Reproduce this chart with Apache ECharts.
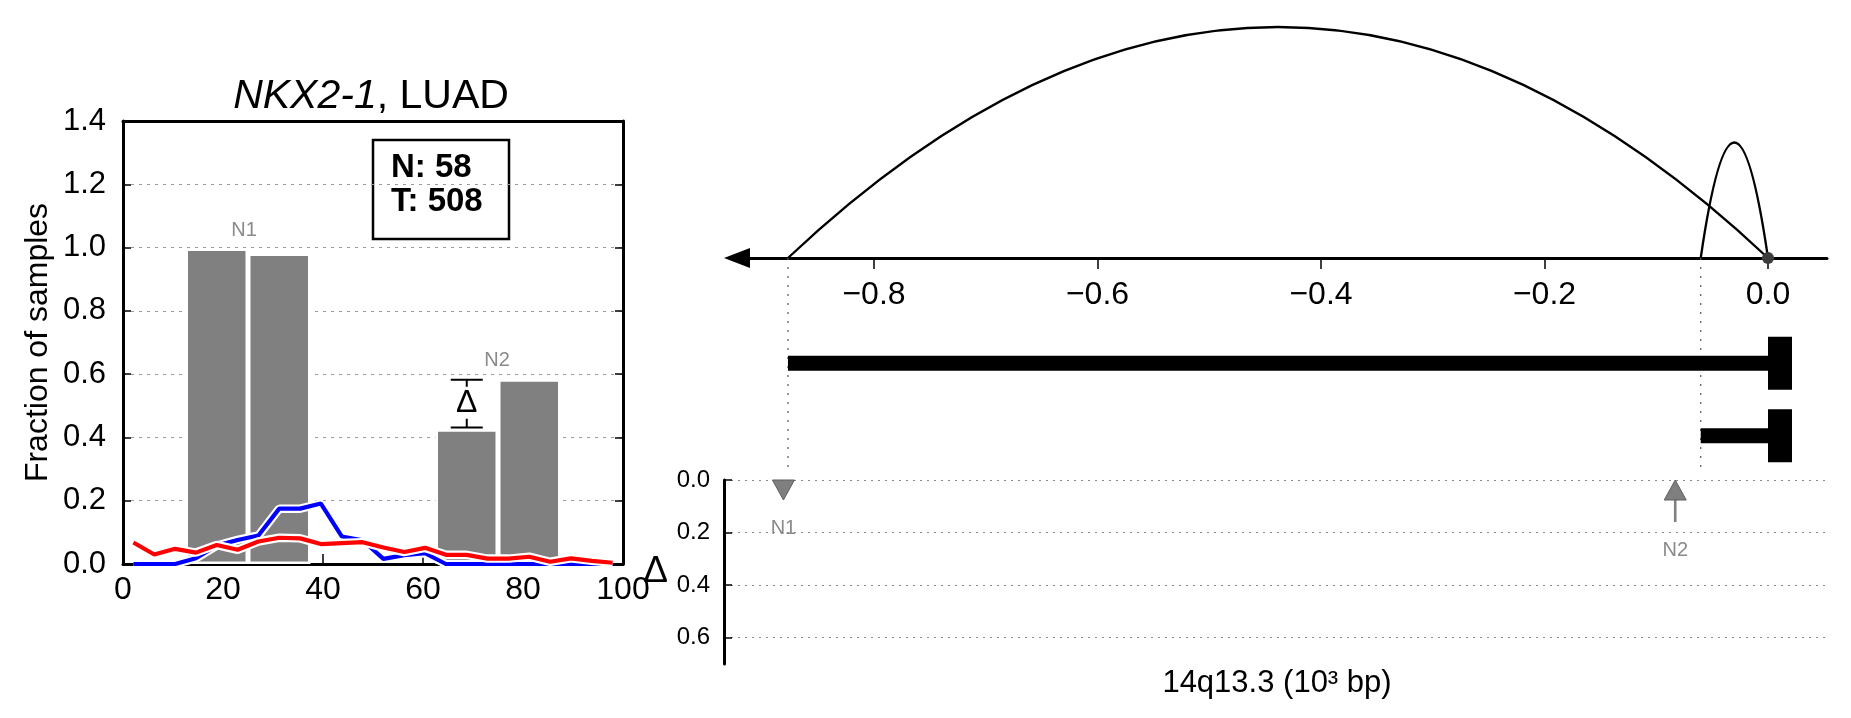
<!DOCTYPE html>
<html><head><meta charset="utf-8">
<script src="https://cdn.jsdelivr.net/npm/echarts@6/dist/echarts.min.js"></script>
<style>html,body{margin:0;padding:0;background:#fff}#c{width:1851px;height:718px}</style>
</head><body><div id="c"></div>
<script>
// ---------- Left panel data ----------
const binCenters = [2.08,6.25,10.42,14.58,18.75,22.92,27.08,31.25,35.42,39.58,43.75,47.92,52.08,56.25,60.42,64.58,68.75,72.92,77.08,81.25,85.42,89.58,93.75,97.92];
const normalFrac = [0,0,0,0.018,0.058,0.076,0.090,0.175,0.175,0.191,0.087,0.075,0.016,0.028,0.034,0,0,0,0,0,0,0,0,0];
const tumorFrac  = [0.068,0.030,0.048,0.036,0.060,0.045,0.071,0.083,0.081,0.063,0.066,0.069,0.052,0.038,0.051,0.029,0.029,0.017,0.017,0.023,0.007,0.018,0.010,0.004];
const barCenters = [18.75,31.25,68.75,81.25];
const barHeights = [0.997,0.981,0.426,0.584];
const peakLabels = ['N1','N2'];
const peakLabelX = [24.2,74.8];
const peakLabelY = [1.053,0.642];
const deltaX = 68.75, deltaLow = 0.431, deltaHigh = 0.582;
const countN = 58, countT = 508;

// ---------- Right panel data ----------
const posTicks = [-0.8,-0.6,-0.4,-0.2,0.0];
const arcStart = [-0.877,-0.0602];
const arcEnd = [0,0];
const arcHeight = [1.0,0.5];
const segStart = [-0.877,-0.0602];
const segEnd = [0,0];
const markerNames = ['N1','N2'];
const markerX = [-0.881,-0.083];
const markerDelta = [0,0.16];
const markerDir = [-1,1];
const markerLabelDelta = [0.183,0.27];
const deltaTicks = [0,0.2,0.4,0.6];

const FONT = "'Liberation Sans', Arial, Helvetica, sans-serif";
const chart = echarts.init(document.getElementById('c'), null, {renderer:'canvas'});
const dashGray = {color:'#9a9a9a', width:1, type:[3,5]};

const option = {
  animation:false,
  backgroundColor:'#fff',
  textStyle:{fontFamily:FONT, color:'#000'},
  title:{
    text:'{i|NKX2-1}, LUAD', left:366, top:71, textAlign:'center',
    textStyle:{fontSize:41, fontWeight:'normal', color:'#000', fontFamily:FONT,
      rich:{i:{fontStyle:'italic', fontSize:41, fontFamily:FONT, color:'#000'}}}
  },
  grid:[
    {left:123, top:121, width:500, height:443},
    {left:737, top:27, width:1090, height:231},
    {left:737, top:327, width:1090, height:145},
    {left:724, top:480, width:1106, height:184}
  ],
  xAxis:[
    {gridIndex:0, type:'value', min:0, max:100, interval:20, position:'bottom',
     axisLine:{onZero:false, lineStyle:{color:'#000', width:3}},
     axisTick:{inside:true, length:10, lineStyle:{color:'#000', width:1.5}},
     axisLabel:{fontSize:32, color:'#000', margin:10, fontFamily:FONT},
     splitLine:{show:false}},
    {gridIndex:0, type:'value', min:0, max:100, position:'top',
     axisLine:{onZero:false, lineStyle:{color:'#000', width:3}}, axisTick:{show:false}, axisLabel:{show:false}, splitLine:{show:false}},
    {gridIndex:1, type:'value', min:-0.9226, max:0.0528, position:'bottom',
     axisLine:{onZero:false, symbol:['triangle','none'], symbolSize:[20,26], lineStyle:{color:'#000', width:3}},
     axisTick:{customValues:posTicks, length:11, lineStyle:{color:'#000', width:1.5}},
     axisLabel:{customValues:posTicks, fontSize:32, color:'#000', margin:21, fontFamily:FONT,
       formatter:v=>(v<0?'\u2212':'')+Math.abs(v).toFixed(1)},
     splitLine:{show:false}},
    {gridIndex:2, type:'value', min:-0.9226, max:0.0528, show:false},
    {gridIndex:3, type:'value', min:-0.9342, max:0.0555, position:'bottom',
     axisLine:{show:false, onZero:false}, axisTick:{show:false}, axisLabel:{show:false}, splitLine:{show:false},
     name:'14q13.3 (10\u00B3 bp)', nameLocation:'middle', nameGap:4,
     nameTextStyle:{fontSize:31, color:'#000', fontFamily:FONT}}
  ],
  yAxis:[
    {gridIndex:0, type:'value', min:0, max:1.4, interval:0.2, position:'left',
     axisLine:{show:true, onZero:false, lineStyle:{color:'#000', width:3}},
     axisTick:{show:true, inside:true, length:8, lineStyle:{color:'#000', width:1.5}},
     axisLabel:{fontSize:31, color:'#000', margin:17, fontFamily:FONT, formatter:v=>v.toFixed(1)},
     splitLine:{show:true, showMinLine:false, showMaxLine:false, lineStyle:dashGray},
     name:'Fraction of samples', nameLocation:'middle', nameGap:69,
     nameTextStyle:{fontSize:32, color:'#000', fontFamily:FONT}},
    {gridIndex:0, type:'value', min:0, max:1.4, interval:0.2, position:'right',
     axisLine:{show:true, onZero:false, lineStyle:{color:'#000', width:3}},
     axisTick:{show:true, inside:true, length:8, lineStyle:{color:'#000', width:1.5}},
     axisLabel:{show:false}, splitLine:{show:false}},
    {gridIndex:1, type:'value', min:0, max:1, show:false},
    {gridIndex:2, type:'category', data:['seg1','seg2'], inverse:true, show:false},
    {gridIndex:3, type:'value', min:0, max:0.7, inverse:true, position:'left',
     axisLine:{show:true, onZero:false, lineStyle:{color:'#000', width:3}},
     axisTick:{show:true, inside:true, length:8, customValues:deltaTicks, lineStyle:{color:'#000', width:1.5}},
     axisLabel:{customValues:deltaTicks, fontSize:24, color:'#000', margin:14, fontFamily:FONT, formatter:v=>v.toFixed(1)},
     splitLine:{show:true, lineStyle:{color:'#8a8a8a', width:1, type:[2,5]}},
     name:'\u0394', nameLocation:'middle', nameRotate:0, nameGap:56,
     nameTextStyle:{fontSize:37, color:'#000', fontFamily:FONT}}
  ],
  graphic:[
    {type:'group', z:100, children:[
      {type:'rect', shape:{x:373, y:140, width:136, height:99}, style:{fill:'#fff', stroke:'#000', lineWidth:2.5}},
      {type:'text', x:391, y:151, style:{text:'N: '+countN+'\nT: '+countT, font:'bold 33px '+FONT, fill:'#000', lineHeight:34}}
    ]}
  ],
  series:[
    {type:'bar', xAxisIndex:0, yAxisIndex:0, barWidth:62.5, z:2,
     data:barCenters.map((c,i)=>[c,barHeights[i]]),
     itemStyle:{color:'#808080', borderColor:'#fff', borderWidth:2.5}},
    {type:'line', xAxisIndex:0, yAxisIndex:0, z:3, symbol:'none', silent:true,
     data:binCenters.map((x,i)=>[x,normalFrac[i]]), lineStyle:{color:'#fff', width:8.5}},
    {type:'line', xAxisIndex:0, yAxisIndex:0, z:3, symbol:'none',
     data:binCenters.map((x,i)=>[x,normalFrac[i]]), lineStyle:{color:'#0000ff', width:4.2}},
    {type:'line', xAxisIndex:0, yAxisIndex:0, z:3, symbol:'none', silent:true,
     data:binCenters.map((x,i)=>[x,tumorFrac[i]]), lineStyle:{color:'#fff', width:8.5}},
    {type:'line', xAxisIndex:0, yAxisIndex:0, z:3, symbol:'none',
     data:binCenters.map((x,i)=>[x,tumorFrac[i]]), lineStyle:{color:'#ff0000', width:4.2}},
    {type:'custom', xAxisIndex:0, yAxisIndex:0, z:4,
     data:[[deltaX,deltaLow,deltaHigh]],
     renderItem:function(params, api){
       const x=api.value(0), lo=api.value(1), hi=api.value(2);
       const pLo=api.coord([x,lo]), pHi=api.coord([x,hi]);
       const half=16, st={stroke:'#000', lineWidth:2};
       const midY=(pLo[1]+pHi[1])/2-1;
       return {type:'group', children:[
         {type:'line', shape:{x1:pHi[0]-half,y1:pHi[1],x2:pHi[0]+half,y2:pHi[1]}, style:st},
         {type:'line', shape:{x1:pLo[0]-half,y1:pLo[1],x2:pLo[0]+half,y2:pLo[1]}, style:st},
         {type:'line', shape:{x1:pHi[0],y1:pHi[1],x2:pLo[0],y2:pLo[1]}, style:st},
         {type:'text', x:pHi[0], y:midY, style:{text:'\u0394', font:'32px '+FONT, fill:'#000', align:'center', verticalAlign:'middle', backgroundColor:'#fff', padding:[0,2]}}
       ]};
     }},
    {type:'custom', xAxisIndex:0, yAxisIndex:0, z:4,
     data:peakLabelX.map((x,i)=>[x,peakLabelY[i]]),
     renderItem:function(params, api){
       const p=api.coord([api.value(0),api.value(1)]);
       return {type:'text', x:p[0], y:p[1], style:{text:peakLabels[params.dataIndex], font:'20px '+FONT, fill:'#8a8a8a', align:'center', verticalAlign:'middle'}};
     }},
    {type:'custom', xAxisIndex:2, yAxisIndex:2, z:3, clip:false,
     data:arcStart.map((s,i)=>[s,arcEnd[i],arcHeight[i]]),
     renderItem:function(params, api){
       const s=api.value(0), e=api.value(1), h=api.value(2);
       const p1=api.coord([s,0]), p2=api.coord([e,0]), c=api.coord([(s+e)/2, 2*h]);
       return {type:'bezierCurve', shape:{x1:p1[0],y1:p1[1],x2:p2[0],y2:p2[1],cpx1:c[0],cpy1:c[1]},
         style:{stroke:'#000', lineWidth:2.3, fill:null}};
     }},
    {type:'custom', xAxisIndex:2, yAxisIndex:2, z:1, clip:false,
     data:arcStart.map(s=>[s,0]),
     renderItem:function(params, api){
       const p=api.coord([api.value(0),0]);
       return {type:'line', shape:{x1:p[0],y1:p[1],x2:p[0],y2:p[1]+214},
         style:{stroke:'#555', lineWidth:1.2, lineDash:[2,7]}};
     }},
    {type:'scatter', xAxisIndex:2, yAxisIndex:2, z:6, symbolSize:12, clip:false,
     data:[[arcEnd[0],0]], itemStyle:{color:'#3c3c3c', opacity:1}},
    {type:'custom', xAxisIndex:3, yAxisIndex:3, z:3, clip:false,
     data:segStart.map((s,i)=>[s,segEnd[i],i]),
     renderItem:function(params, api){
       const s=api.value(0), e=api.value(1), c=api.value(2);
       const p1=api.coord([s,c]), p2=api.coord([e,c]);
       return {type:'group', children:[
         {type:'rect', shape:{x:p1[0], y:p1[1]-7.5, width:p2[0]-p1[0], height:15}, style:{fill:'#000'}},
         {type:'rect', shape:{x:p2[0], y:p2[1]-26.5, width:24, height:53}, style:{fill:'#000'}}
       ]};
     }},
    {type:'custom', xAxisIndex:4, yAxisIndex:4, z:3, clip:false,
     data:markerX.map((x,i)=>[x,markerDelta[i],markerLabelDelta[i],markerDir[i]]),
     renderItem:function(params, api){
       const x=api.value(0), d=api.value(1), lab=api.value(2), dir=api.value(3);
       const p0=api.coord([x,0]);
       const head=20, hw=11;
       const tri={fill:'#7f7f7f', stroke:'#5e5e5e', lineWidth:1};
       const ch=[];
       if(dir<0){
         ch.push({type:'polygon', shape:{points:[[p0[0]-hw,p0[1]],[p0[0]+hw,p0[1]],[p0[0],p0[1]+head]]}, style:tri});
       } else {
         const pd=api.coord([x,d]);
         ch.push({type:'line', shape:{x1:p0[0],y1:p0[1]+head,x2:pd[0],y2:pd[1]}, style:{stroke:'#808080', lineWidth:2.6}});
         ch.push({type:'polygon', shape:{points:[[p0[0],p0[1]],[p0[0]-hw,p0[1]+head],[p0[0]+hw,p0[1]+head]]}, style:tri});
       }
       const pl=api.coord([x,lab]);
       ch.push({type:'text', x:pl[0], y:pl[1], style:{text:markerNames[params.dataIndex], font:'20px '+FONT, fill:'#8a8a8a', align:'center', verticalAlign:'middle'}});
       return {type:'group', children:ch};
     }}
  ]
};
chart.setOption(option);
</script>
</body></html>
